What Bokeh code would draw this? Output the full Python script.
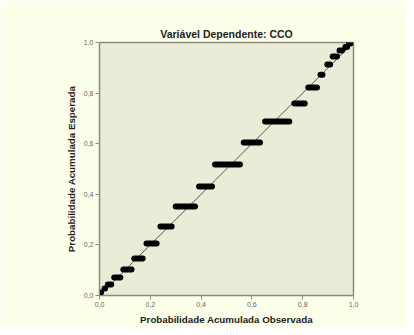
from bokeh.plotting import figure
from bokeh.models import Range1d, FixedTicker, CustomJSTickFormatter
from bokeh.embed import file_html
from bokeh.resources import INLINE

# Reference line (expected = observed)
diag_x = [0.0, 1.0]
diag_y = [0.0, 1.0]

# Step plateaus of the P-P plot: observed start/end, expected level
obs_start = [0.003, 0.020, 0.033, 0.058, 0.094, 0.137, 0.185, 0.240, 0.300, 0.392,
             0.455, 0.568, 0.652, 0.767, 0.822, 0.870, 0.897, 0.918, 0.945, 0.968, 0.982]
obs_end = [0.006, 0.022, 0.046, 0.082, 0.126, 0.170, 0.225, 0.284, 0.376, 0.443,
           0.553, 0.632, 0.747, 0.808, 0.856, 0.878, 0.908, 0.935, 0.955, 0.975, 0.988]
expected = [0.012, 0.028, 0.043, 0.071, 0.103, 0.146, 0.206, 0.273, 0.352, 0.431,
            0.518, 0.605, 0.688, 0.759, 0.822, 0.873, 0.913, 0.945, 0.968, 0.982, 0.996]

ticks = [0.0, 0.2, 0.4, 0.6, 0.8, 1.0]

p = figure(width=406, height=327, output_backend="svg", toolbar_location=None,
           x_range=Range1d(0, 1), y_range=Range1d(0, 1),
           title="Variável Dependente: CCO",
           min_border_left=99, min_border_right=53, min_border_top=42, min_border_bottom=32)

p.background_fill_color = "#EAECD8"
p.border_fill_color = "#FCFFE9"
p.outline_line_color = "#8C8C80"
p.outline_line_width = 1.5
p.grid.visible = False

p.title.align = "center"
p.title.text_font = "Liberation Sans"
p.title.text_font_size = "10.5px"
p.title.text_font_style = "bold"
p.title.text_color = "#222222"
p.title.offset = 0
p.title.standoff = 5

fmt = CustomJSTickFormatter(code="return tick.toFixed(1).replace('.', ',');")
for ax, lab in ((p.xaxis[0], "Probabilidade Acumulada Observada"),
                (p.yaxis[0], "Probabilidade Acumulada Esperada")):
    ax.ticker = FixedTicker(ticks=ticks)
    ax.formatter = fmt
    ax.axis_label = lab
    ax.axis_label_text_font = "Liberation Sans"
    ax.axis_label_text_font_size = "9.75px"
    ax.axis_label_text_font_style = "bold"
    ax.axis_label_text_color = "#222222"
    ax.axis_label_standoff = 4
    ax.major_label_text_font = "Liberation Sans"
    ax.major_label_text_font_size = "7px"
    ax.major_label_text_color = "#666666"
    ax.major_label_standoff = 2
    ax.axis_line_color = "#8C8C80"
    ax.major_tick_line_color = "#8C8C80"
    ax.major_tick_in = 0
    ax.major_tick_out = 4
    ax.minor_tick_line_color = None

p.line(diag_x, diag_y, line_color="#555555", line_width=1)
p.segment(x0=obs_start, y0=expected, x1=obs_end, y1=expected,
          line_color="#000000", line_width=6, line_cap="round")

open("out.html", "w").write(file_html(p, INLINE))
